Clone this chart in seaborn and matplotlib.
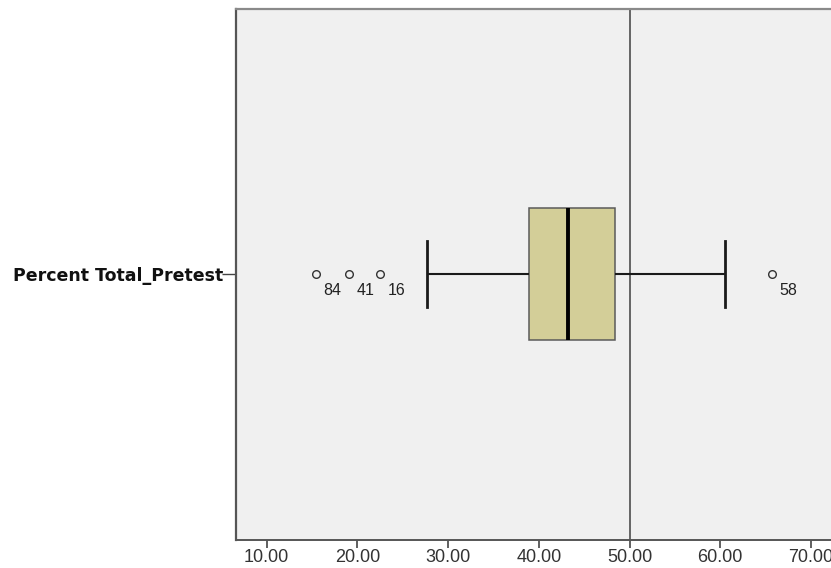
import matplotlib
matplotlib.use("Agg")
import matplotlib.pyplot as plt
import seaborn as sns
import pandas as pd

# ---- data ----
category = "Percent Total_Pretest"
# sample with the same five-number summary and outliers as the reference
scores = [15.40, 19.07, 22.49, 27.64, 38.92, 40.10, 41.30, 42.40, 43.25,
          44.60, 45.90, 47.20, 48.43, 51.80, 55.30, 60.48, 65.68]
outlier_values = [15.40, 19.07, 22.49, 65.68]
outlier_ids = ["84", "41", "16", "58"]
ref_value = 50
xticks = [10, 20, 30, 40, 50, 60, 70]
xtick_labels = ["10.00", "20.00", "30.00", "40.00", "50.00", "60.00", "70.00"]

df = pd.DataFrame({"score": scores, "var": [category] * len(scores)})

fig = plt.figure(figsize=(8.31, 5.68), dpi=100)
ax = fig.add_axes([236 / 831, 1 - 539.5 / 568, 1 - 236 / 831, (539.5 - 8.7) / 568])
ax.set_facecolor("#F0F0F0")

sns.boxplot(data=df, x="score", y="var", orient="h", ax=ax, width=0.25,
            color="#D3CE98", saturation=1, linecolor="#000000",
            boxprops=dict(facecolor="#D3CE98", edgecolor="#5a5a5a", linewidth=1.1),
            whiskerprops=dict(color="#1a1a1a", linewidth=1.5),
            capprops=dict(color="#1a1a1a", linewidth=2.0),
            medianprops=dict(color="#000000", linewidth=2.8),
            flierprops=dict(marker="o", markersize=5.5, markerfacecolor="none",
                            markeredgecolor="#333333", markeredgewidth=1.0))

ax.axvline(ref_value, color="#4d4d4d", linewidth=1.2, zorder=1)

for v, lab in zip(outlier_values, outlier_ids):
    ax.annotate(lab, xy=(v, 0), xytext=(5.5, -11.5), textcoords="offset points",
                ha="left", va="center", fontsize=11.5, color="#222222",
                family="Liberation Sans")

ax.set_xlim(6.62, 72.21)
ax.set_ylim(0.5, -0.5)
ax.set_xticks(xticks)
ax.set_xticklabels(xtick_labels, family="Liberation Sans", fontsize=13, color="#333333")
ax.set_yticks([0])
ax.set_yticklabels([category], family="DejaVu Sans", fontweight="bold", fontsize=12.5, color="#111111")
ax.set_xlabel("")
ax.set_ylabel("")
ax.grid(False)

ax.tick_params(axis="x", length=5.5, width=1.2, color="#444444", pad=1.5)
ax.tick_params(axis="y", length=10, width=1.0, color="#444444", pad=-1)

ax.spines["top"].set_color("#8a8a8a")
ax.spines["top"].set_linewidth(1.6)
ax.spines["left"].set_color("#555555")
ax.spines["left"].set_linewidth(1.6)
ax.spines["bottom"].set_color("#555555")
ax.spines["bottom"].set_linewidth(1.4)
ax.spines["right"].set_visible(False)

fig.savefig("out.png", dpi=100, facecolor="white")
